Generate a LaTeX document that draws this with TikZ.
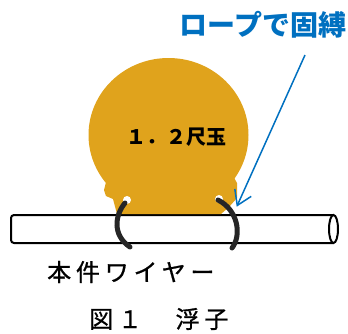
\documentclass[tikz,border=0pt]{standalone}
\usepackage{fontspec}
\newfontfamily\jpfont{Noto Sans CJK JP}
\newfontfamily\jpwide[LetterSpace=20,FakeBold=0.8]{Noto Sans CJK JP}
\usetikzlibrary{arrows.meta}
\definecolor{ballgold}{RGB}{224,163,28}
\definecolor{ropeblue}{RGB}{0,112,192}
\tikzset{
 rope/.style={line width=5,line cap=round,black!85},
 hole/.style={fill=white},
 wire/.style={line width=2,rounded corners=3},
 jplabel/.style={inner sep=0}
}
\begin{document}
\begin{tikzpicture}[x=1pt,y=-1pt]
 \useasboundingbox (0,0) rectangle (348,333);
 % wire
 \draw[wire,fill=white](333,215)--(11,215)--(11,243)--(333,243);
 \draw[line width=2](333.5,229) ellipse [x radius=4.5,y radius=14];
 % float
 \fill[ballgold](168.5,135) ellipse [x radius=80,y radius=77];
 \fill[ballgold](112,172)--(106,182)--(104,190)--(106,196)--(113,199)--(117,214)--(221,214)--(229,207)--(237,198)--(237,183)--(231,172)--cycle;
 \fill[hole](127,200) circle (4);
 \fill[hole](219,199) circle (4);
 % ropes
 \draw[rope](125,203) .. controls (115,215) and (112,235) .. (130,247);
 \draw[rope](218,200) .. controls (238,210) and (242,235) .. (232,248);
 % labels
 \node[jplabel,font=\jpfont\bfseries\fontsize{20}{24}\selectfont] (ball) at (176.5,137.5) {１．２尺玉};
 \node[jplabel,font=\jpfont\bfseries\fontsize{28}{32}\selectfont,text=ropeblue] (ropelabel) at (263,25) {ロープで固縛};
 \node[jplabel,anchor=west,font=\jpwide\fontsize{24}{28}\selectfont] (wirelabel) at (47,272) {本件ワイヤー};
 \node[jplabel,anchor=west,font=\jpwide\fontsize{24}{28}\selectfont] (caption) at (89,319) {図１　浮子};
 % arrow
 \coordinate (arrowstart) at (305,55);
 \coordinate (ropetip) at (236.7,206.7);
 \draw[ropeblue,line width=1.5,-{Straight Barb[length=14pt,width=18pt]}](arrowstart)--(ropetip);
\end{tikzpicture}
\end{document}
